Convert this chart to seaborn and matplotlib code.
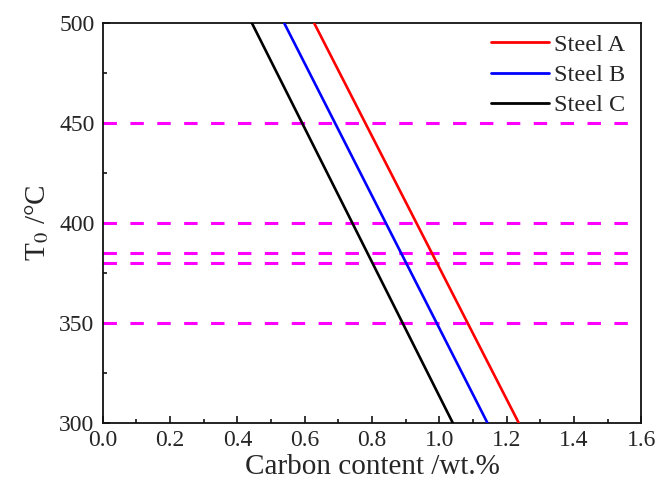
import matplotlib
matplotlib.use("Agg")
import matplotlib.pyplot as plt
import seaborn as sns
import pandas as pd
from matplotlib.ticker import MultipleLocator, FormatStrFormatter

steels = ["Steel A", "Steel B", "Steel C"]
carbon_at_500 = [0.628, 0.539, 0.443]
carbon_at_300 = [1.236, 1.143, 1.040]
temps = [500, 300]
ref_temps = [450, 400, 385, 380, 350]
colors = ["#ff0000", "#0000ff", "#000000"]

rows = []
for s, c5, c3 in zip(steels, carbon_at_500, carbon_at_300):
    rows.append({"steel": s, "C": c5, "T": temps[0]})
    rows.append({"steel": s, "C": c3, "T": temps[1]})
df = pd.DataFrame(rows)

sns.set_theme(style="ticks")
plt.rcParams["font.family"] = ["Liberation Serif", "DejaVu Serif"]
plt.rcParams["mathtext.fontset"] = "stix"

fig = plt.figure(figsize=(6.59, 4.9), dpi=100)
ax = fig.add_axes([0.156, 0.137, 0.817, 0.816])

for t in ref_temps:
    ax.axhline(t, color="#ff00ff", lw=2.2, ls=(0, (4.4, 4.4)), zorder=1)

sns.lineplot(data=df, x="C", y="T", hue="steel", palette=colors, lw=1.9,
             ax=ax, zorder=3, sort=False, estimator=None)

ax.set_xlim(0, 1.6)
ax.set_ylim(300, 500)
ax.xaxis.set_major_locator(MultipleLocator(0.2))
ax.xaxis.set_minor_locator(MultipleLocator(0.1))
ax.yaxis.set_major_locator(MultipleLocator(50))
ax.yaxis.set_minor_locator(MultipleLocator(25))
ax.tick_params(which="both", direction="in", top=False, right=False, labelsize=17)
ax.tick_params(which="major", length=5, width=1.3)
ax.tick_params(which="minor", length=3, width=1.3)
ax.tick_params(axis="y", pad=6)
ax.tick_params(axis="x", pad=5)
ax.xaxis.set_major_formatter(FormatStrFormatter("%.1f"))
for sp in ax.spines.values():
    sp.set_linewidth(1.3)
    sp.set_color("#111111")

ax.set_xlabel("Carbon content /wt.%", fontsize=21, labelpad=2)
ax.set_ylabel("T$_0$ /°C", fontsize=21, labelpad=6)

leg = ax.legend(loc="upper right", bbox_to_anchor=(0.99, 1.0), fontsize=17.5,
                frameon=False, handlelength=2.4, handletextpad=0.2,
                labelspacing=0.33, borderaxespad=0.05)
for h in leg.get_lines():
    h.set_linewidth(2)

fig.savefig("out.png", dpi=100)
